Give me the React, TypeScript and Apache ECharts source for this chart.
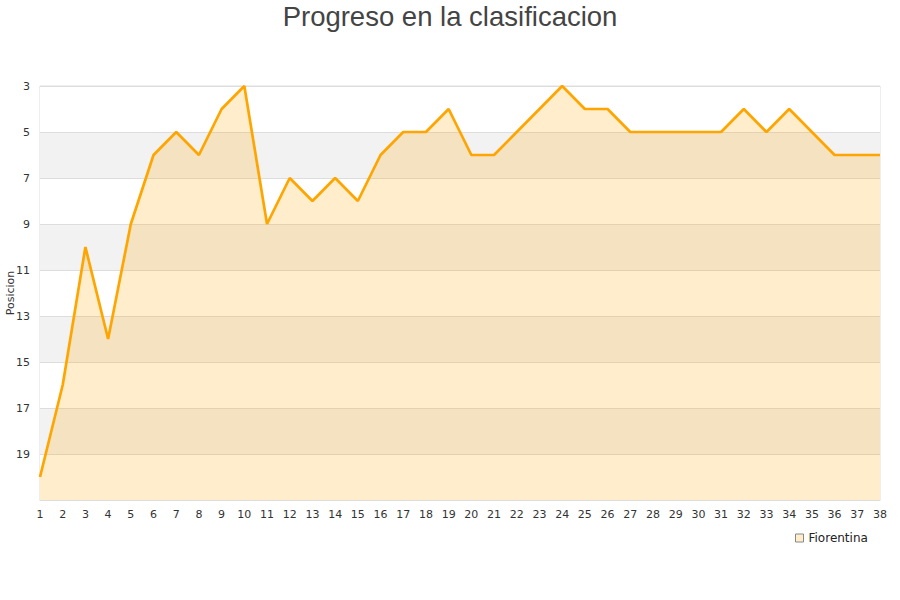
import React, { useEffect, useRef } from "react";
import * as echarts from "echarts";

const rounds = Array.from({ length: 38 }, (_, i) => String(i + 1));
const positions = [20, 16, 10, 14, 9, 6, 5, 6, 4, 3, 9, 7, 8, 7, 8, 6, 5, 5, 4, 6, 6, 5, 4, 3, 4, 4, 5, 5, 5, 5, 5, 4, 5, 4, 5, 6, 6, 6];
const seriesName = "Fiorentina";
const titleText = "Progreso en la clasificacion";
const yName = "Posicion";

export default function App() {
  const ref = useRef<HTMLDivElement>(null);
  useEffect(() => {
    const chart = echarts.init(ref.current!, null, { renderer: "svg" });
    chart.setOption({
      animation: false,
      title: {
        text: titleText,
        left: "center",
        top: -3,
        textStyle: { fontFamily: "Liberation Sans", fontSize: 27.5, fontWeight: "normal", color: "#444" },
      },
      legend: {
        data: [{ name: seriesName, icon: "rect" }],
        left: 790,
        top: 527,
        itemWidth: 8,
        itemHeight: 8,
        itemGap: 6,
        textStyle: { fontFamily: "DejaVu Sans", fontSize: 12, color: "#222" },
        itemStyle: { color: "#ffedcc", borderColor: "#888", borderWidth: 1 },
      },
      grid: {
        left: 40,
        right: 20,
        top: 86,
        bottom: 100,
        containLabel: false,
        outerBoundsMode: "none",
        show: true,
        borderColor: "#ddd",
        borderWidth: 1,
        backgroundColor: "transparent",
      },
      xAxis: {
        type: "category",
        data: rounds,
        boundaryGap: false,
        axisLine: { lineStyle: { color: "#ddd" } },
        axisTick: { show: false },
        axisLabel: { fontFamily: "DejaVu Sans", fontSize: 11, color: "#333", margin: 9, interval: 0 },
        splitLine: { show: false },
      },
      yAxis: {
        type: "value",
        inverse: true,
        min: 3,
        max: 21,
        interval: 2,
        name: yName,
        nameLocation: "middle",
        nameGap: 24,
        nameMoveOverlap: false,
        nameRotate: 90,
        nameTextStyle: { fontFamily: "DejaVu Sans", fontSize: 11, color: "#333" },
        axisLine: { show: false },
        axisTick: { show: false },
        axisLabel: {
          fontFamily: "DejaVu Sans",
          fontSize: 11,
          color: "#333",
          margin: 10,
          formatter: (v: number) => (v === 21 ? "" : String(v)),
        },
        splitLine: { show: true, lineStyle: { color: "#ddd", width: 1 } },
        splitArea: { show: true, areaStyle: { color: ["#ffffff", "#f2f2f2"] } },
      },
      series: [
        {
          name: seriesName,
          type: "line",
          data: positions,
          showSymbol: false,
          symbol: "none",
          lineStyle: { color: "#ffa500", width: 2.7 },
          itemStyle: { color: "#ffa500" },
          areaStyle: { color: "#ffa500", opacity: 0.2, origin: "end" },
        },
      ],
    });
    return () => chart.dispose();
  }, []);
  return <div ref={ref} style={{ width: 900, height: 600, position: "absolute", left: 0, top: 0 }} />;
}
